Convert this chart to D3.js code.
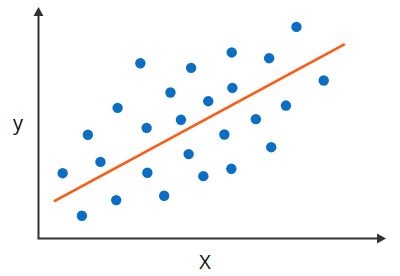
<!DOCTYPE html>
<html><head><meta charset="utf-8">
<script src="https://cdn.jsdelivr.net/npm/d3@7"></script>
<style>html,body{margin:0;padding:0;background:#fff;}svg{display:block;}</style>
</head><body>
<svg id="c" width="400" height="276"></svg>
<script>
const xValues = [6.9,14.1,17.7,12.4,22.6,22.2,29.1,30.9,31.1,35.9,37.7,40.7,43.6,42.9,47.1,48.5,55.2,55.4,53.1,55.1,62.1,65.9,66.5,70.7,73.7,81.5];
const yValues = [28.4,45.1,33.3,9.9,56.8,16.7,76.2,48.1,28.6,18.6,63.5,51.6,74.2,36.7,27.1,59.7,80.9,65.5,45.2,30.3,51.9,78.4,39.7,57.8,92.0,68.7];
const trendX = [4.4, 87.5];
const trendY = [16.1, 84.5];
const xLabel = "X";
const yLabel = "y";

const svg = d3.select("#c");
const x = d3.scaleLinear().domain([0,100]).range([38.5,388.5]);
const y = d3.scaleLinear().domain([0,100]).range([238.5,8.5]);

const axisColor = "#333333";
// y axis
svg.append("line").attr("x1",x(0)).attr("y1",y(0)).attr("x2",x(0)).attr("y2",14)
  .attr("stroke",axisColor).attr("stroke-width",2);
svg.append("path").attr("d",`M${x(0)},7 L${x(0)-5},16 L${x(0)+5},16 Z`).attr("fill",axisColor);
// x axis
svg.append("line").attr("x1",x(0)-1).attr("y1",y(0)).attr("x2",379).attr("y2",y(0))
  .attr("stroke",axisColor).attr("stroke-width",2);
svg.append("path").attr("d",`M386,${y(0)} L377,${y(0)-5} L377,${y(0)+5} Z`).attr("fill",axisColor);

// points
const pts = xValues.map((v,i)=>({x:v,y:yValues[i]}));
svg.append("g").selectAll("circle").data(pts).join("circle")
  .attr("cx",d=>x(d.x)).attr("cy",d=>y(d.y)).attr("r",5.2).attr("fill","#0a6fc4");

// trend line
const line = d3.line().x(d=>x(d[0])).y(d=>y(d[1]));
svg.append("path").datum(trendX.map((v,i)=>[v,trendY[i]]))
  .attr("d",line).attr("stroke","#ff5a12").attr("stroke-width",2.6).attr("fill","none");

// labels
svg.append("text").attr("x",205).attr("y",269).attr("text-anchor","middle")
  .attr("font-family","Open Sans, sans-serif").attr("font-size",20).attr("fill","#111").text(xLabel);
svg.append("text").attr("x",18).attr("y",130).attr("text-anchor","middle")
  .attr("font-family","Open Sans, sans-serif").attr("font-size",20).attr("fill","#111").text(yLabel);
</script>
</body></html>
